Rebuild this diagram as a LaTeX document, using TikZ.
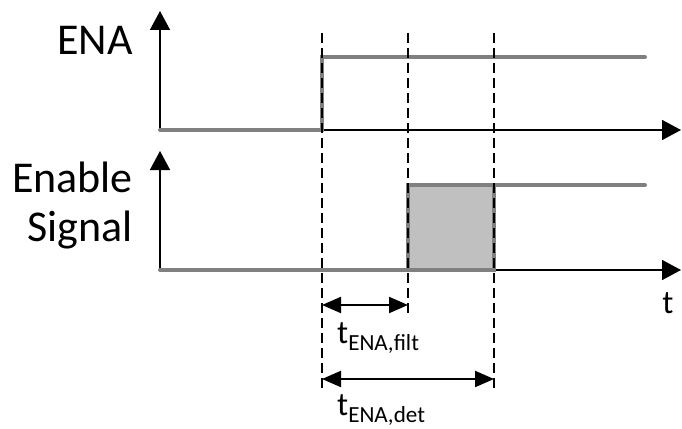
\documentclass[tikz,border=0pt]{standalone}
\usepackage{fontspec}
\setmainfont{Carlito}
\usetikzlibrary{arrows.meta}
\definecolor{sig}{RGB}{128,128,128}
\definecolor{boxfill}{RGB}{192,192,192}
\begin{document}
\begin{tikzpicture}[x=1pt,y=-1pt,
  axis/.style={line width=1.5pt,-{Triangle[length=19pt,width=20pt]}},
  sigline/.style={sig,line width=4pt,line cap=round,line join=miter},
  guide/.style={line width=1.5pt,dash pattern=on 10pt off 5pt},
  dim/.style={line width=2pt,{Triangle[length=19pt,width=16pt]}-{Triangle[length=19pt,width=16pt]}},
  lab/.style={font=\fontsize{44}{50}\selectfont,inner sep=0pt,anchor=east},
  tlab/.style={font=\fontsize{33}{36}\selectfont,inner sep=0pt}]
\useasboundingbox (0,0) rectangle (682,428);
% coordinates
\coordinate (o1) at (160,130);
\coordinate (y1) at (160,11);
\coordinate (x1) at (681,130);
\coordinate (o2) at (160,270);
\coordinate (y2) at (160,151);
\coordinate (x2) at (681,270);
% grey box
\fill[boxfill] (408,185) rectangle (494,270);
% axes
\draw[axis] (o1) -- (y1);
\draw[axis] (o1) -- (x1);
\draw[axis] (o2) -- (y2);
\draw[axis] (o2) -- (x2);
% signals
\draw[sigline] (o1) -- (322,130) -- (322,57) -- (645,57);
\draw[sigline] (o2) -- (408,270) -- (408,185) -- (645,185);
\draw[sigline] (408,270) -- (494,270) -- (494,185);
% dashed guides
\coordinate (g1t) at (322,33); \coordinate (g1b) at (322,388);
\coordinate (g2t) at (408,33); \coordinate (g2b) at (408,314);
\coordinate (g3t) at (494,33); \coordinate (g3b) at (494,390);
\draw[guide] (g1t) -- (g1b);
\draw[guide] (g2t) -- (g2b);
\draw[guide] (g3t) -- (g3b);
% dimension arrows
\coordinate (f1) at (322,305); \coordinate (f2) at (408,305);
\coordinate (d1) at (322,379); \coordinate (d2) at (494,379);
\draw[dim] (f1) -- (f2);
\draw[dim] (d1) -- (d2);
% labels
\node[lab] (ena) at (133,40) {ENA};
\node[lab] (en) at (133,177) {Enable};
\node[lab] (sg) at (133,230) {Signal};
\node[tlab,anchor=west] (tf) at (337,338) {t\textsubscript{ENA,filt}};
\node[tlab,anchor=west] (td) at (337,410) {t\textsubscript{ENA,det}};
\node[tlab] (t) at (668,303) {t};
\end{tikzpicture}
\end{document}
